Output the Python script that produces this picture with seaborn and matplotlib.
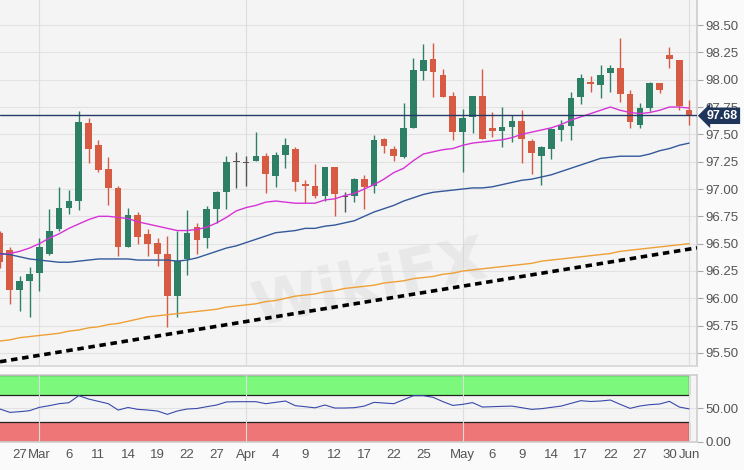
import numpy as np
import pandas as pd
import matplotlib
matplotlib.use("Agg")
import matplotlib.pyplot as plt
import matplotlib.transforms as mtransforms
from matplotlib.patches import Rectangle
import seaborn as sns

# ---------------- DATA (daily candles, 25 Feb - 3 Jun 2019) ----------------
dates = pd.bdate_range("2019-02-25", "2019-06-03")

opens = [96.60, 96.44, 96.08, 96.16, 96.23, 96.41, 96.63, 96.83, 96.89, 97.60,
         97.40, 97.18, 97.01, 96.47, 96.76, 96.59, 96.51, 96.41, 96.02, 96.36,
         96.65, 96.55, 96.82, 96.97, 97.25, 97.24, 97.26, 97.30, 97.12, 97.31,
         97.37, 97.05, 97.03, 96.94, 97.20, 96.93, 96.94, 97.09, 97.03, 97.46,
         97.37, 97.29, 97.56, 98.08, 98.19, 98.04, 97.85, 97.52, 97.66, 97.85,
         97.56, 97.53, 97.57, 97.62, 97.44, 97.30, 97.37, 97.54, 97.58, 97.84,
         97.98, 97.95, 98.06, 98.11, 97.87, 97.59, 97.74, 97.97, 98.23, 98.18,
         97.72]
highs = [96.62, 96.47, 96.20, 96.29, 96.55, 96.82, 97.02, 96.99, 97.71, 97.65,
         97.45, 97.29, 97.03, 96.83, 96.79, 96.63, 96.55, 96.57, 96.62, 96.81,
         96.69, 96.84, 96.98, 97.30, 97.34, 97.30, 97.52, 97.33, 97.34, 97.47,
         97.38, 97.08, 97.23, 97.20, 97.20, 96.97, 97.10, 97.13, 97.49, 97.47,
         97.39, 97.79, 98.20, 98.33, 98.34, 98.10, 97.89, 97.73, 97.85, 98.10,
         97.70, 97.75, 97.68, 97.72, 97.46, 97.39, 97.56, 97.63, 97.89, 98.05,
         98.03, 98.13, 98.13, 98.38, 97.91, 97.79, 97.98, 97.97, 98.30, 98.18,
         97.81]
lows = [96.28, 95.95, 95.88, 95.83, 96.07, 96.40, 96.62, 96.77, 96.81, 97.24,
        97.16, 96.85, 96.39, 96.47, 96.50, 96.39, 96.30, 95.74, 95.83, 96.21,
        96.41, 96.46, 96.69, 96.82, 97.01, 97.03, 97.26, 96.96, 97.02, 97.19,
        96.98, 96.87, 96.92, 96.89, 96.75, 96.79, 96.88, 96.82, 96.96, 97.33,
        97.26, 97.28, 97.56, 98.00, 97.84, 97.84, 97.45, 97.16, 97.51, 97.46,
        97.48, 97.38, 97.43, 97.24, 97.14, 97.04, 97.27, 97.44, 97.45, 97.78,
        97.89, 97.83, 97.89, 97.80, 97.56, 97.56, 97.71, 97.88, 98.11, 97.72,
        97.59]
closes = [96.33, 96.08, 96.16, 96.22, 96.47, 96.62, 96.83, 96.89, 97.61, 97.37,
          97.17, 97.01, 96.47, 96.76, 96.56, 96.50, 96.41, 96.02, 96.34, 96.60,
          96.53, 96.82, 96.97, 97.25, 97.25, 97.24, 97.30, 97.14, 97.31, 97.40,
          97.06, 97.03, 96.94, 97.20, 96.95, 96.93, 97.09, 97.02, 97.45, 97.39,
          97.30, 97.56, 98.09, 98.18, 98.07, 97.84, 97.52, 97.65, 97.85, 97.46,
          97.53, 97.57, 97.62, 97.46, 97.33, 97.38, 97.55, 97.59, 97.83, 98.02,
          97.96, 98.04, 98.11, 97.87, 97.61, 97.74, 97.97, 97.91, 98.19, 97.76,
          97.68]

# moving averages
sma_fast = [96.40, 96.41, 96.43, 96.46, 96.50, 96.55, 96.59, 96.64, 96.68, 96.72,
            96.75, 96.75, 96.74, 96.73, 96.70, 96.68, 96.66, 96.64, 96.62, 96.62,
            96.63, 96.65, 96.69, 96.74, 96.80, 96.83, 96.85, 96.88, 96.89, 96.88,
            96.87, 96.87, 96.87, 96.90, 96.91, 96.94, 96.96, 97.00, 97.04, 97.09,
            97.15, 97.19, 97.26, 97.32, 97.34, 97.36, 97.37, 97.40, 97.42, 97.43,
            97.44, 97.45, 97.47, 97.50, 97.52, 97.54, 97.56, 97.59, 97.63, 97.66,
            97.69, 97.72, 97.75, 97.72, 97.70, 97.69, 97.70, 97.72, 97.75, 97.75,
            97.74]
sma_mid = [96.41, 96.40, 96.38, 96.36, 96.35, 96.34, 96.33, 96.33, 96.34, 96.35,
           96.36, 96.36, 96.36, 96.36, 96.35, 96.35, 96.35, 96.35, 96.34, 96.35,
           96.37, 96.40, 96.43, 96.46, 96.48, 96.51, 96.54, 96.57, 96.60, 96.61,
           96.62, 96.64, 96.64, 96.66, 96.67, 96.69, 96.71, 96.75, 96.79, 96.82,
           96.85, 96.89, 96.92, 96.95, 96.97, 96.98, 96.99, 97.00, 97.01, 97.01,
           97.02, 97.04, 97.06, 97.08, 97.09, 97.11, 97.13, 97.16, 97.19, 97.22,
           97.25, 97.28, 97.29, 97.30, 97.30, 97.30, 97.32, 97.35, 97.37, 97.40,
           97.42]
sma_slow = [95.61, 95.62, 95.64, 95.65, 95.66, 95.67, 95.68, 95.70, 95.71, 95.73,
            95.74, 95.76, 95.77, 95.79, 95.81, 95.83, 95.84, 95.85, 95.86, 95.87,
            95.88, 95.89, 95.90, 95.92, 95.93, 95.94, 95.95, 95.97, 95.98, 96.00,
            96.02, 96.03, 96.04, 96.06, 96.07, 96.09, 96.10, 96.11, 96.12, 96.14,
            96.15, 96.16, 96.18, 96.19, 96.20, 96.22, 96.23, 96.25, 96.26, 96.27,
            96.28, 96.29, 96.30, 96.31, 96.32, 96.34, 96.35, 96.36, 96.37, 96.38,
            96.39, 96.40, 96.41, 96.43, 96.44, 96.45, 96.46, 96.47, 96.48, 96.49,
            96.50]
rsi = [49.0, 44.0, 45.0, 46.5, 51.5, 54.0, 57.0, 58.5, 69.0, 64.0,
       60.5, 57.0, 47.5, 51.3, 48.5, 47.5, 46.0, 41.0, 46.0, 49.0,
       49.8, 52.5, 55.0, 59.6, 60.0, 60.0, 60.0, 57.0, 59.0, 61.0,
       54.0, 52.5, 50.8, 55.0, 50.5, 50.5, 51.0, 53.4, 59.0, 58.0,
       57.0, 63.0, 69.0, 69.0, 66.5, 60.0, 54.4, 56.0, 58.6, 52.0,
       52.5, 53.0, 53.4, 51.0, 48.5, 49.5, 51.5, 53.4, 57.5, 61.5,
       60.3, 61.0, 62.5, 56.0, 50.0, 53.5, 55.5, 56.5, 60.5, 52.0,
       49.2]

trend_dates = ["2019-02-25", "2019-06-03"]
trend_values = [95.42, 96.45]
last_price = 97.68

tick_dates = ["2019-02-27", "2019-03-01", "2019-03-06", "2019-03-11", "2019-03-14",
              "2019-03-19", "2019-03-22", "2019-03-27", "2019-04-01", "2019-04-04",
              "2019-04-09", "2019-04-12", "2019-04-17", "2019-04-22", "2019-04-25",
              "2019-05-01", "2019-05-06", "2019-05-09", "2019-05-14", "2019-05-17",
              "2019-05-22", "2019-05-27", "2019-05-30", "2019-06-03"]
tick_labels = ["27", "Mar", "6", "11", "14", "19", "22", "27", "Apr", "4", "9", "12",
               "17", "22", "25", "May", "6", "9", "14", "17", "22", "27", "30", "Jun"]
month_dates = ["2019-03-01", "2019-04-01", "2019-05-01", "2019-06-03"]

# ---------------- FRAME ----------------
df = pd.DataFrame({"date": dates, "open": opens, "high": highs, "low": lows,
                   "close": closes, "sma_fast": sma_fast, "sma_mid": sma_mid,
                   "sma_slow": sma_slow, "rsi": rsi})
df["pos"] = np.arange(len(df))

tick_pos = dates.get_indexer(pd.to_datetime(tick_dates))
month_pos = dates.get_indexer(pd.to_datetime(month_dates))
trend_pos = dates.get_indexer(pd.to_datetime(trend_dates))

# ---------------- STYLE ----------------
sns.set_theme(style="white")
plt.rcParams["font.family"] = ["Liberation Sans Narrow", "Liberation Sans", "DejaVu Sans"]

GREEN = "#2d7f65"
RED = "#d75a42"
DOJI = "#555555"
GRID = "#e2e2e2"
PANEL = "#f4f4f4"
TXT = "#555555"

fig = plt.figure(figsize=(7.44, 4.70), dpi=100, facecolor="#fafafa")
ax = fig.add_axes([0.0, 0.2213, 0.9368, 0.7787], facecolor=PANEL)
ax2 = fig.add_axes([0.0, 0.0602, 0.9368, 0.1419], facecolor=PANEL)

xmin, xmax = 0.0, 70.8

# ---------------- PRICE PANEL ----------------
for y in np.arange(95.5, 98.76, 0.25):
    ax.axhline(y, color=GRID, lw=0.8, zorder=0)
for p in month_pos:
    ax.axvline(p, color="#dddddd", lw=0.8, zorder=0)

# faint watermark
ax.text(0.53, 0.22, "WikiFX", transform=ax.transAxes, fontsize=44,
        fontweight="bold", color="#cfcfcf", alpha=0.3, rotation=12,
        ha="center", va="center", zorder=1, family="DejaVu Sans")

colors = np.where(df["close"] > df["open"], GREEN,
                  np.where(df["close"] < df["open"], RED, DOJI))
ax.vlines(df["pos"], df["low"], df["high"], colors=colors, lw=1.0, zorder=3)
body_lo = np.minimum(df["open"], df["close"])
body_h = np.maximum((df["close"] - df["open"]).abs(), 0.006)
ax.bar(df["pos"], body_h, bottom=body_lo, width=0.68, color=colors, zorder=4,
       linewidth=0)

sns.lineplot(data=df, x="pos", y="sma_fast", color="#d633d6", lw=1.0, ax=ax, zorder=5)
sns.lineplot(data=df, x="pos", y="sma_mid", color="#34589a", lw=1.0, ax=ax, zorder=5)
sns.lineplot(data=df, x="pos", y="sma_slow", color="#eea035", lw=1.0, ax=ax, zorder=5)

ax.axline((trend_pos[0], trend_values[0]), (trend_pos[1], trend_values[1]),
          color="black", lw=2.6, linestyle=(0, (1.8, 1.3)), zorder=6)
ax.axhline(last_price, color="#263a68", lw=1.0, zorder=6)

trans = mtransforms.blended_transform_factory(ax.transAxes, ax.transData)
ax.text(1.014, last_price - 0.01, f"{last_price:.2f}", transform=trans, ha="left",
        va="center", color="white", fontsize=9, fontweight="bold", zorder=10,
        bbox=dict(boxstyle="larrow,pad=0.18", fc="#1f3559", ec="none"),
        clip_on=False)

ax.set_xlim(xmin, xmax)
ax.set_ylim(95.381, 98.729)
ax.set_yticks(np.arange(95.5, 98.51, 0.25))
ax.set_yticklabels([f"{v:.2f}" for v in np.arange(95.5, 98.51, 0.25)])
ax.yaxis.tick_right()
ax.tick_params(axis="y", direction="out", length=4, width=0.8, color="#aaaaaa",
               labelcolor=TXT, labelsize=9.5, pad=2)
ax.set_xticks([])
ax.set_xlabel("")
ax.set_ylabel("")
for s in ["left", "top"]:
    ax.spines[s].set_visible(False)
ax.spines["right"].set_color("#cfcfcf")
ax.spines["bottom"].set_color("#d8d8d8")

# ---------------- RSI PANEL ----------------
last = df["pos"].iloc[-1]
ax2.add_patch(Rectangle((-1, 70), last + 1, 30, facecolor="#7cf97c",
                        edgecolor="#222222", lw=0.9, zorder=1))
ax2.add_patch(Rectangle((-1, 0), last + 1, 30, facecolor="#ef7676",
                        edgecolor="#222222", lw=0.9, zorder=1))
ax2.axhline(50, color=GRID, lw=0.8, zorder=0)
for p in month_pos:
    ax2.axvline(p, color="#dddddd", lw=0.8, zorder=2)
sns.lineplot(data=df, x="pos", y="rsi", color="#3949ab", lw=0.8, ax=ax2, zorder=3)

ax2.set_xlim(xmin, xmax)
ax2.set_ylim(0, 100)
ax2.set_yticks([0, 50])
ax2.set_yticklabels(["0.00", "50.00"])
ax2.yaxis.tick_right()
ax2.set_xticks(tick_pos)
ax2.set_xticklabels(tick_labels)
ax2.tick_params(axis="y", direction="out", length=4, width=0.8, color="#aaaaaa",
                labelcolor=TXT, labelsize=9.5, pad=2)
ax2.tick_params(axis="x", direction="out", length=3, width=0.8, color="#aaaaaa",
                labelcolor=TXT, labelsize=9.5, pad=2)
ax2.set_xlabel("")
ax2.set_ylabel("")
ax2.spines["left"].set_visible(False)
for s in ["right", "top", "bottom"]:
    ax2.spines[s].set_color("#d0d0d0")

fig.savefig("out.png", dpi=100, facecolor=fig.get_facecolor())
